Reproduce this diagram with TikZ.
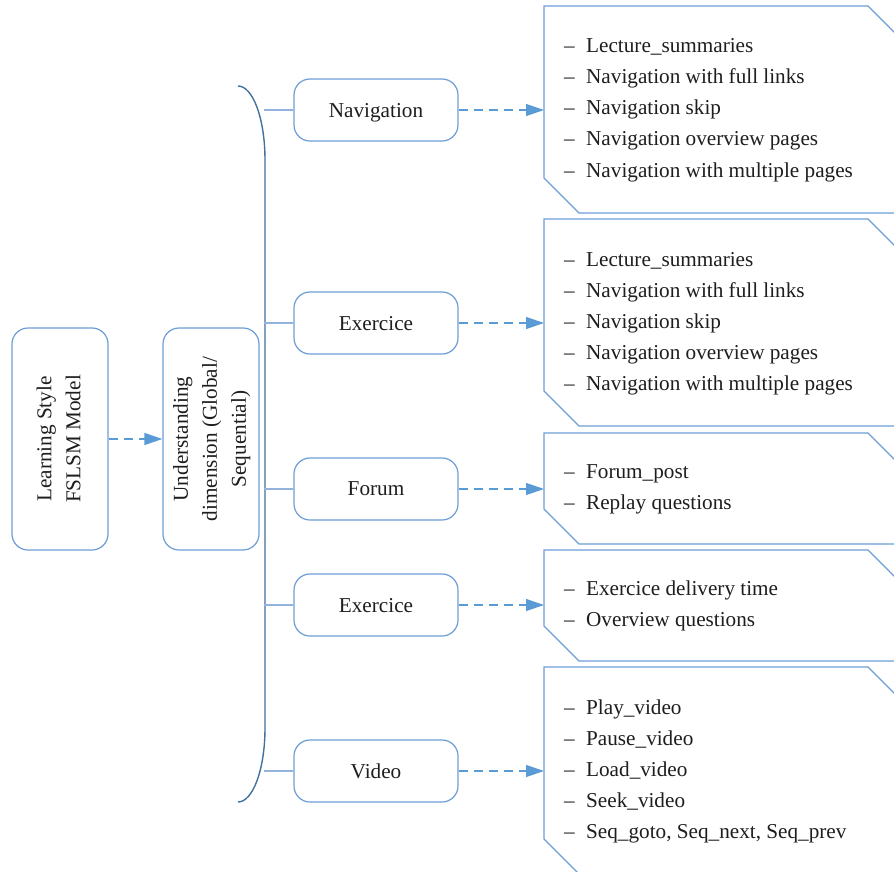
\documentclass[tikz,border=0pt]{standalone}
\usepackage{fontspec}
\setmainfont{Liberation Serif}
\usetikzlibrary{arrows.meta}
\definecolor{boxblue}{HTML}{6E9ED6}
\definecolor{arrowblue}{HTML}{5B9BD5}
\definecolor{braceblue}{HTML}{41719C}
\definecolor{connblue}{HTML}{94B3DC}
\definecolor{txt}{HTML}{1E1E1E}
\tikzset{
  rbox/.style={draw=boxblue, line width=1.2pt, rounded corners=16pt, inner sep=0pt, text=txt,
    font=\fontsize{21.2}{29}\selectfont},
  midbox/.style={rbox, minimum width=164pt, minimum height=62pt, text depth=0pt},
  sidebox/.style={rbox, minimum width=96pt, minimum height=222pt},
  listitem/.style={anchor=base west, inner sep=0pt, text=txt, font=\fontsize{21.2}{29}\selectfont},
  chamf/.style={draw=boxblue, line width=1.1pt},
  dasharrow/.style={draw=arrowblue, line width=1.2pt, dash pattern=on 9pt off 6pt,
    -{Triangle[length=18pt,width=12pt,fill=arrowblue]}},
  conn/.style={draw=connblue, line width=1.3pt},
  bracel/.style={draw=braceblue, line width=1.4pt}
}
\newcommand{\itm}[1]{\makebox[22pt][l]{--}#1}
\begin{document}
\begin{tikzpicture}[x=1pt,y=-1pt]
\useasboundingbox (0,0) rectangle (894,872);
\clip (0,0) rectangle (894,872);
\fill[white] (0,0) rectangle (894,872);

% left nodes
\node[sidebox] (ls) at (60,439) {\rotatebox{90}{\begin{tabular}{@{}c@{}}Learning Style\\FSLSM Model\end{tabular}}};
\node[sidebox] (ud) at (211,439) {\rotatebox{90}{\begin{tabular}{@{}c@{}}Understanding\\dimension (Global/\\Sequential)\end{tabular}}};
\draw[dasharrow] (ls.east) -- (ud.west);

% brace
\draw[bracel] (238,86) .. controls (253,86) and (265,119) .. (265,160) -- (265,728)
  .. controls (265,769) and (253,802) .. (238,802);

% middle nodes
\node[midbox] (m1) at (376,110) {Navigation};
\node[midbox] (m2) at (376,323) {Exercice};
\node[midbox] (m3) at (376,489) {Forum};
\node[midbox] (m4) at (376,605) {Exercice};
\node[midbox] (m5) at (376,771) {Video};

\draw[conn] (m1.west) -- ++(-29,0);
\draw[conn] (m2.west) -- ++(-29,0);
\draw[conn] (m3.west) -- ++(-29,0);
\draw[conn] (m4.west) -- ++(-29,0);
\draw[conn] (m5.west) -- ++(-29,0);

% right chamfered boxes
\draw[chamf] (544,6) -- (868,6) -- (903,41) -- (903,213) -- (579,213) -- (544,178) -- cycle;
\draw[chamf] (544,219) -- (868,219) -- (903,254) -- (903,426) -- (579,426) -- (544,391) -- cycle;
\draw[chamf] (544,433) -- (868,433) -- (903,468) -- (903,544) -- (579,544) -- (544,509) -- cycle;
\draw[chamf] (544,550) -- (868,550) -- (903,585) -- (903,661) -- (579,661) -- (544,626) -- cycle;
\draw[chamf] (544,667) -- (868,667) -- (903,702) -- (903,874) -- (579,874) -- (544,839) -- cycle;

\coordinate (r1) at (544,110);
\coordinate (r2) at (544,323);
\coordinate (r3) at (544,489);
\coordinate (r4) at (544,605);
\coordinate (r5) at (544,771);
\draw[dasharrow] (m1.east) -- (r1);
\draw[dasharrow] (m2.east) -- (r2);
\draw[dasharrow] (m3.east) -- (r3);
\draw[dasharrow] (m4.east) -- (r4);
\draw[dasharrow] (m5.east) -- (r5);

% list texts
\node[listitem] (a1) at (564,53) {\itm{Lecture\_summaries}};
\node[listitem] (a2) at (564,84) {\itm{Navigation with full links}};
\node[listitem] (a3) at (564,115) {\itm{Navigation skip}};
\node[listitem] (a4) at (564,146) {\itm{Navigation overview pages}};
\node[listitem] (a5) at (564,177) {\itm{Navigation with multiple pages}};

\node[listitem] (b1) at (564,266) {\itm{Lecture\_summaries}};
\node[listitem] (b2) at (564,297) {\itm{Navigation with full links}};
\node[listitem] (b3) at (564,328) {\itm{Navigation skip}};
\node[listitem] (b4) at (564,359) {\itm{Navigation overview pages}};
\node[listitem] (b5) at (564,390) {\itm{Navigation with multiple pages}};

\node[listitem] (c1) at (564,478) {\itm{Forum\_post}};
\node[listitem] (c2) at (564,509) {\itm{Replay questions}};

\node[listitem] (d1) at (564,595) {\itm{Exercice delivery time}};
\node[listitem] (d2) at (564,626) {\itm{Overview questions}};

\node[listitem] (e1) at (564,714) {\itm{Play\_video}};
\node[listitem] (e2) at (564,745) {\itm{Pause\_video}};
\node[listitem] (e3) at (564,776) {\itm{Load\_video}};
\node[listitem] (e4) at (564,807) {\itm{Seek\_video}};
\node[listitem] (e5) at (564,838) {\itm{Seq\_goto, Seq\_next, Seq\_prev}};
\end{tikzpicture}
\end{document}
